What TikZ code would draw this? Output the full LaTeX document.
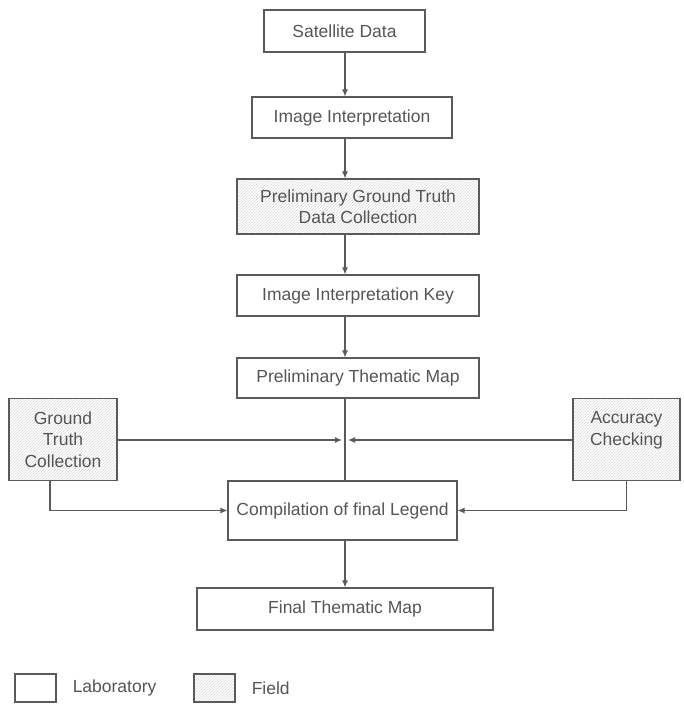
\documentclass[tikz,border=0pt]{standalone}
\usepackage{fontspec}
\setmainfont{Liberation Sans}
\definecolor{linegray}{RGB}{90,90,90}
\definecolor{textgray}{RGB}{85,85,85}
\usetikzlibrary{positioning, calc, arrows.meta, patterns}

\begin{document}
\begin{tikzpicture}[
        x=1pt, y=-1pt,
        font=\fontsize{17.5}{21.5}\selectfont,
        lab/.style={rectangle, draw=linegray, line width=1.1pt, text=textgray, inner sep=0pt, align=center},
        field/.style={lab, pattern=north east lines, pattern color=gray!28},
        legtext/.style={text=textgray, inner sep=0pt, anchor=west},
        arrow/.style={-{Latex[length=7pt, width=6pt]}, line width=1.1pt, linegray},
        link/.style={line width=1.1pt, linegray}
    ]
        \useasboundingbox (0,0) rectangle (683,708);
        \coordinate (spine) at (345,0);

        % Main chain
        \node[lab, minimum width=161, minimum height=42] (SAT) at (344.5,31) {Satellite Data};
        \node[lab, minimum width=200, minimum height=41] (INTERP) at (352,117.5) {Image Interpretation};
        \node[field, minimum width=242, minimum height=55] (PRELIM_GT) at (358,206.5) {Preliminary Ground Truth\\Data Collection};
        \node[lab, minimum width=242, minimum height=41] (KEY) at (358,295.5) {Image Interpretation Key};
        \node[lab, minimum width=242, minimum height=40] (PRELIM_MAP) at (358,378) {Preliminary Thematic Map};
        \node[lab, minimum width=229, minimum height=59] (COMP) at (342.5,510.5) {Compilation of final Legend};
        \node[lab, minimum width=296, minimum height=42] (FINAL) at (345,609) {Final Thematic Map};

        % Field checks
        \node[field, minimum width=108, minimum height=82] (GT_COLL) at (63,439.5) {Ground\\Truth\\Collection};
        \node[field, minimum width=107, minimum height=82] (ACC) at (626.5,439.5) {Accuracy\\Checking\\\phantom{C}};

        % Legend
        \node[lab, minimum width=41, minimum height=28] (LAB_KEY) at (35.5,688) {};
        \node[legtext, right=16pt of LAB_KEY] (LAB_TXT) {Laboratory};
        \node[field, minimum width=41, minimum height=28] (FIELD_KEY) at (214.5,688) {};
        \node[legtext, right=16pt of FIELD_KEY] (FIELD_TXT) {Field};

        % Connections down the chain
        \draw[arrow] (spine |- SAT.south) -- (spine |- INTERP.north);
        \draw[arrow] (spine |- INTERP.south) -- (spine |- PRELIM_GT.north);
        \draw[arrow] (spine |- PRELIM_GT.south) -- (spine |- KEY.north);
        \draw[arrow] (spine |- KEY.south) -- (spine |- PRELIM_MAP.north);
        \draw[link] (spine |- PRELIM_MAP.south) -- (spine |- COMP.north);
        \draw[arrow] (spine |- COMP.south) -- (spine |- FINAL.north);

        % Side inputs
        \coordinate (meet_l) at (342,440);
        \coordinate (meet_r) at (348,440);
        \draw[arrow] (GT_COLL.east |- meet_l) -- (meet_l);
        \draw[arrow] (ACC.west |- meet_r) -- (meet_r);
        \draw[arrow] ([xshift=-13pt]GT_COLL.south) |- (COMP.west);
        \draw[arrow] (ACC.south) |- (COMP.east);
    \end{tikzpicture}
\end{document}
